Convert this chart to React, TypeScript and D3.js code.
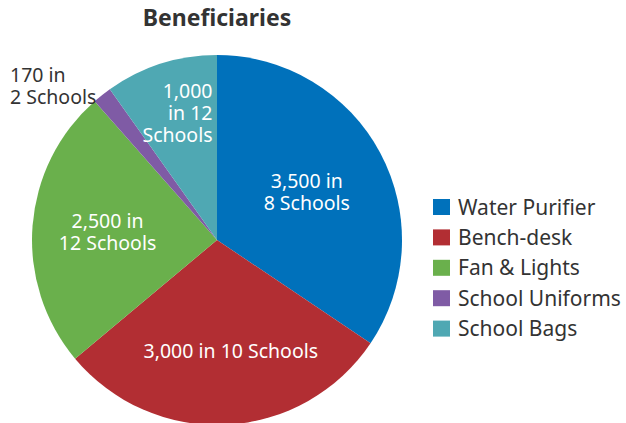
import * as d3 from 'd3';
import { useEffect, useRef } from 'react';

const categories = ['Water Purifier', 'Bench-desk', 'Fan & Lights', 'School Uniforms', 'School Bags'];
const values = [3500, 3000, 2500, 170, 1000];
const labelLines = [
  ['3,500 in', '8 Schools'],
  ['3,000 in 10 Schools'],
  ['2,500 in', '12 Schools'],
  ['170 in', '2 Schools'],
  ['1,000', 'in 12', 'Schools'],
];
const colors = ['#0071bb', '#b22e33', '#6ab04c', '#7f5ba5', '#4fa8b3'];

const width = 626;
const height = 423;
const cx = 217;
const cy = 240;
const radius = 185;
const font = "'Noto Sans', sans-serif";

// label placement: radius factor along the slice's mid angle, anchor, x nudge
const labelRadius = [0.55, 0.6, 0.55, 0, 0.72];
const labelAnchor = ['middle', 'middle', 'middle', 'start', 'end'];
const labelDx = [0, 8, -8, 0, 36];

function App() {
  const svgElement = useRef<SVGSVGElement | null>(null);

  useEffect(() => {
    const svg = d3.select(svgElement.current);
    svg.selectAll('*').remove();

    svg
      .append('text')
      .attr('x', cx)
      .attr('y', 26)
      .attr('text-anchor', 'middle')
      .style('font-family', font)
      .style('font-size', '23px')
      .style('font-weight', 'bold')
      .attr('fill', '#333')
      .text('Beneficiaries');

    const pie = d3.pie<number>().value((d) => d).sort(null);
    const arcs = pie(values);
    const arc = d3.arc<d3.PieArcDatum<number>>().innerRadius(0).outerRadius(radius);

    const chart = svg.append('g').attr('transform', `translate(${cx},${cy})`);

    chart
      .selectAll('.arc')
      .data(arcs)
      .join('path')
      .attr('class', 'arc')
      .attr('d', (d) => arc(d) as string)
      .attr('fill', (d, i) => colors[i]);

    const lineH = 22;
    arcs.forEach((d, i) => {
      const lines = labelLines[i];
      let x: number;
      let y: number;
      let fill = '#fff';
      if (labelRadius[i] === 0) {
        // outside label, top-left of the pie
        x = 10 - cx;
        y = 82 - cy;
        fill = '#333';
      } else {
        const r = radius * labelRadius[i];
        const a = (d.startAngle + d.endAngle) / 2;
        x = r * Math.sin(a) + labelDx[i];
        y = -r * Math.cos(a);
      }
      const y0 = labelRadius[i] === 0 ? y : y - ((lines.length - 1) * lineH) / 2 + 7;
      lines.forEach((l, j) => {
        chart
          .append('text')
          .attr('x', x)
          .attr('y', y0 + j * lineH)
          .attr('text-anchor', labelAnchor[i])
          .style('font-family', font)
          .style('font-size', '19.5px')
          .attr('fill', fill)
          .text(l);
      });
    });

    const legendY = d3
      .scaleBand()
      .domain(categories)
      .range([199, 199 + 30.4 * categories.length]);

    const legend = svg
      .append('g')
      .selectAll('g')
      .data(categories)
      .join('g')
      .attr('transform', (d) => `translate(433,${legendY(d)})`);

    legend
      .append('rect')
      .attr('width', 17)
      .attr('height', 16)
      .attr('fill', (d, i) => colors[i]);

    legend
      .append('text')
      .attr('x', 25)
      .attr('y', 15.5)
      .style('font-family', font)
      .style('font-size', '21px')
      .attr('fill', '#333')
      .text((d) => d);
  }, []);

  return (
    <div style={{ position: 'absolute', left: 0, top: 0 }}>
      <svg ref={svgElement} width={width} height={height} style={{ display: 'block' }} />
    </div>
  );
}

export default App;
